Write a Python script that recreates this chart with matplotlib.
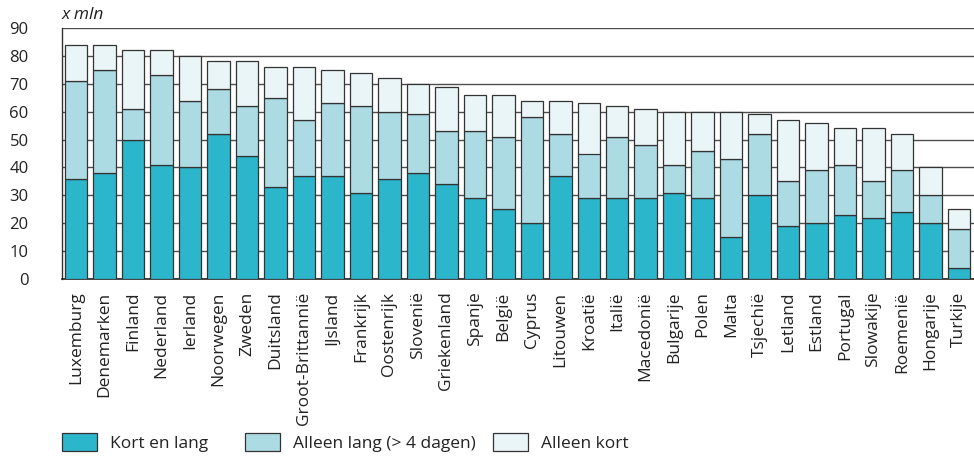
import matplotlib.pyplot as plt
from matplotlib.patches import Patch
import numpy as np

# Data (x mln)
countries = ['Luxemburg', 'Denemarken', 'Finland', 'Nederland', 'Ierland', 'Noorwegen',
             'Zweden', 'Duitsland', 'Groot-Brittannië', 'IJsland', 'Frankrijk', 'Oostenrijk',
             'Slovenië', 'Griekenland', 'Spanje', 'België', 'Cyprus', 'Litouwen', 'Kroatië',
             'Italië', 'Macedonië', 'Bulgarije', 'Polen', 'Malta', 'Tsjechië', 'Letland',
             'Estland', 'Portugal', 'Slowakije', 'Roemenië', 'Hongarije', 'Turkije']
kort_en_lang = [36, 38, 50, 41, 40, 52, 44, 33, 37, 37, 31, 36, 38, 34, 29, 25, 20, 37, 29,
                29, 29, 31, 29, 15, 30, 19, 20, 23, 22, 24, 20, 4]
alleen_lang = [35, 37, 11, 32, 24, 16, 18, 32, 20, 26, 31, 24, 21, 19, 24, 26, 38, 15, 16,
               22, 19, 10, 17, 28, 22, 16, 19, 18, 13, 15, 10, 14]
alleen_kort = [13, 9, 21, 9, 16, 10, 16, 11, 19, 12, 12, 12, 11, 16, 13, 15, 6, 12, 18,
               11, 13, 19, 14, 17, 7, 22, 17, 13, 19, 13, 10, 7]
series_labels = ['Kort en lang', 'Alleen lang (> 4 dagen)', 'Alleen kort']
colors = ['#2bb6cc', '#acdbe4', '#e9f5f7']

plt.rcParams['font.family'] = ['Open Sans', 'DejaVu Sans']
fs = 12.5

fig = plt.figure(figsize=(9.74, 4.61), dpi=100)
ax = fig.add_axes([62 / 974, 1 - 279 / 461, 1 - 62 / 974, (279 - 28) / 461])

x = np.arange(len(countries))
bottom = np.zeros(len(countries))
for vals, col in zip([kort_en_lang, alleen_lang, alleen_kort], colors):
    ax.bar(x, vals, width=0.79, bottom=bottom, color=col, edgecolor='#333333',
           linewidth=0.9, zorder=3)
    bottom += np.array(vals)

ax.set_xlim(-0.5, len(countries) - 0.47)
ax.set_ylim(0, 90)
ax.set_yticks(range(0, 91, 10))
ax.yaxis.grid(True, color='#4d4d4d', linewidth=1.0, zorder=0)
ax.set_axisbelow(True)

ax.set_xticks(x)
ax.set_xticklabels(countries, rotation=90, fontsize=fs, color='#222222')
ax.tick_params(axis='x', length=0, pad=9)
ax.tick_params(axis='y', length=0, pad=24, labelsize=fs - 0.5, labelcolor='#222222')
for lbl in ax.get_yticklabels():
    lbl.set_horizontalalignment('right')

for side in ['top', 'right']:
    ax.spines[side].set_visible(False)
ax.spines['left'].set_color('#333333')
ax.spines['bottom'].set_color('#222222')
ax.spines['left'].set_linewidth(1.0)
ax.spines['bottom'].set_linewidth(1.2)

fig.text(62 / 974, 1 - 15 / 461, 'x mln', fontsize=fs, style='italic',
         color='#222222', ha='left', va='center')

# Legend entries placed one by one
legend_x = [62 / 974, 245 / 974, 493 / 974]
for lab, col, lx in zip(series_labels, colors, legend_x):
    h = Patch(facecolor=col, edgecolor='#333333', linewidth=0.9)
    fig.legend(handles=[h], labels=[lab], loc='upper left',
               bbox_to_anchor=(lx, 1 - 433 / 461), frameon=False, borderpad=0,
               borderaxespad=0, handlelength=2.0, handleheight=1.25,
               handletextpad=0.75, fontsize=fs, labelcolor='#222222')

fig.savefig('out.png', dpi=100)
